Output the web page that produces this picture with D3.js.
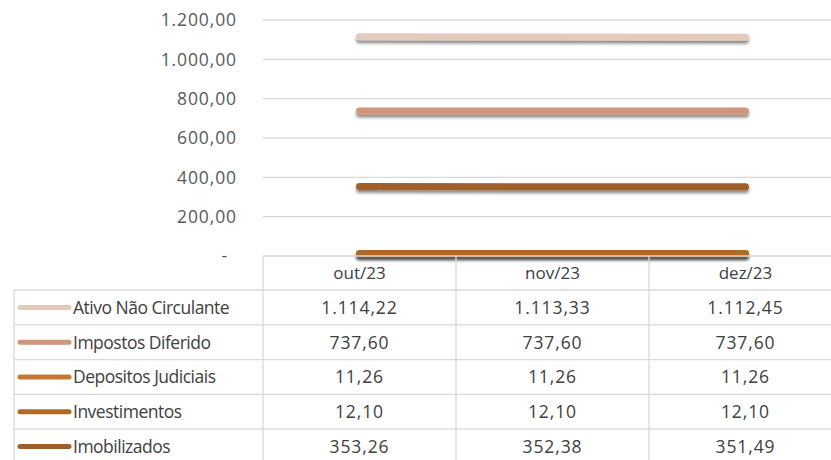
<!DOCTYPE html>
<html>
<head>
<meta charset="utf-8">
<script src="https://cdn.jsdelivr.net/npm/d3@7"></script>
<style>
  body { margin: 0; background: #fff; }
  svg { font-family: "Open Sans", sans-serif; }
  .num { letter-spacing: 0.9px; }
  .lbl { letter-spacing: -0.5px; }
</style>
</head>
<body>
<div id="chart"></div>
<script>
const months = ["out/23", "nov/23", "dez/23"];
const seriesNames = ["Ativo Não Circulante", "Impostos Diferido", "Depositos Judiciais", "Investimentos", "Imobilizados"];
const ativoNaoCirculante = [1114.22, 1113.33, 1112.45];
const impostosDiferido = [737.60, 737.60, 737.60];
const depositosJudiciais = [11.26, 11.26, 11.26];
const investimentos = [12.10, 12.10, 12.10];
const imobilizados = [353.26, 352.38, 351.49];
const yTicks = [0, 200, 400, 600, 800, 1000, 1200];
const colors = ["#e5c9bc", "#d0977a", "#c47a2e", "#b06a28", "#9e5f2a"];

const series = [ativoNaoCirculante, impostosDiferido, depositosJudiciais, investimentos, imobilizados]
  .map((values, i) => ({ name: seriesNames[i], values, color: colors[i] }));

const width = 831, height = 460;
const plotLeft = 263, plotRight = 842, plotTop = 20, plotBottom = 256;
const headerH = 34, rowH = 34.8, tableLeft = 14;
const gridColor = "#d9d9d9";
const fontSize = "17.5px";

const ptBR = d3.formatLocale({ decimal: ",", thousands: ".", grouping: [3], currency: ["R$ ", ""] });
const fmt = ptBR.format(",.2f");

const svg = d3.select("#chart").append("svg")
  .attr("width", width)
  .attr("height", height);

const defs = svg.append("defs");
defs.append("filter")
  .attr("id", "shadow")
  .attr("filterUnits", "userSpaceOnUse")
  .attr("x", 0).attr("y", 0)
  .attr("width", width).attr("height", height)
  .append("feDropShadow")
  .attr("dx", 0).attr("dy", 3)
  .attr("stdDeviation", 1.8)
  .attr("flood-color", "#000")
  .attr("flood-opacity", 0.45);

const x = d3.scaleBand()
  .domain(months)
  .range([plotLeft, plotRight]);

const y = d3.scaleLinear()
  .domain([0, 1200])
  .range([plotBottom, plotTop]);

// gridlines
svg.append("g")
  .selectAll("line")
  .data(yTicks.filter(d => d > 0))
  .join("line")
  .attr("x1", plotLeft)
  .attr("x2", width)
  .attr("y1", d => y(d))
  .attr("y2", d => y(d))
  .attr("stroke", gridColor)
  .attr("stroke-width", 1.3);

// y tick labels (accounting style: zero shown as a dash)
svg.append("g")
  .selectAll("text")
  .data(yTicks)
  .join("text")
  .attr("class", "num")
  .attr("x", 237)
  .attr("dx", d => d === 0 ? -9 : 0)
  .attr("y", d => y(d))
  .attr("dy", "0.36em")
  .attr("text-anchor", "end")
  .attr("fill", "#595959")
  .style("font-size", fontSize)
  .text(d => d === 0 ? "-" : fmt(d));

// lines
const line = d3.line()
  .x((d, i) => x(months[i]) + x.bandwidth() / 2)
  .y(d => y(d));

svg.append("g")
  .selectAll("path")
  .data(series)
  .join("path")
  .attr("d", d => line(d.values))
  .attr("fill", "none")
  .attr("stroke", d => d.color)
  .attr("stroke-width", 7)
  .attr("stroke-linecap", "round")
  .attr("filter", "url(#shadow)");

// data table
const table = svg.append("g");
const tableTop = plotBottom;
const rowsTop = tableTop + headerH;
const tableBottom = rowsTop + rowH * series.length;

table.append("line")
  .attr("x1", plotLeft).attr("x2", plotRight)
  .attr("y1", tableTop).attr("y2", tableTop)
  .attr("stroke", gridColor).attr("stroke-width", 1.3);

table.selectAll("line.h")
  .data(d3.range(series.length + 1))
  .join("line")
  .attr("class", "h")
  .attr("x1", tableLeft).attr("x2", plotRight)
  .attr("y1", i => rowsTop + i * rowH)
  .attr("y2", i => rowsTop + i * rowH)
  .attr("stroke", gridColor).attr("stroke-width", 1.3);

table.append("line")
  .attr("x1", tableLeft).attr("x2", tableLeft)
  .attr("y1", rowsTop).attr("y2", tableBottom)
  .attr("stroke", gridColor).attr("stroke-width", 1.3);

table.selectAll("line.v")
  .data(months.concat([null]))
  .join("line")
  .attr("class", "v")
  .attr("x1", (d, i) => plotLeft + i * x.bandwidth())
  .attr("x2", (d, i) => plotLeft + i * x.bandwidth())
  .attr("y1", tableTop).attr("y2", tableBottom)
  .attr("stroke", gridColor).attr("stroke-width", 1.3);

// header
table.selectAll("text.head")
  .data(months)
  .join("text")
  .attr("class", "head")
  .attr("x", d => x(d) + x.bandwidth() / 2)
  .attr("y", tableTop + headerH / 2)
  .attr("dy", "0.36em")
  .attr("text-anchor", "middle")
  .attr("fill", "#404040")
  .style("font-size", "17px")
  .text(d => d);

// rows
const rows = table.selectAll("g.row")
  .data(series)
  .join("g")
  .attr("class", "row")
  .attr("transform", (d, i) => `translate(0,${rowsTop + i * rowH + rowH / 2})`);

rows.append("line")
  .attr("x1", 20).attr("x2", 69)
  .attr("y1", 0).attr("y2", 0)
  .attr("stroke", d => d.color)
  .attr("stroke-width", 5)
  .attr("stroke-linecap", "round");

rows.append("text")
  .attr("class", "lbl")
  .attr("x", 73)
  .attr("dy", "0.36em")
  .attr("fill", "#404040")
  .style("font-size", fontSize)
  .text(d => d.name);

rows.selectAll("text.val")
  .data(d => d.values)
  .join("text")
  .attr("class", "val num")
  .attr("x", (v, i) => x(months[i]) + x.bandwidth() / 2)
  .attr("dy", "0.36em")
  .attr("text-anchor", "middle")
  .attr("fill", "#404040")
  .style("font-size", fontSize)
  .text(v => fmt(v));
</script>
</body>
</html>
